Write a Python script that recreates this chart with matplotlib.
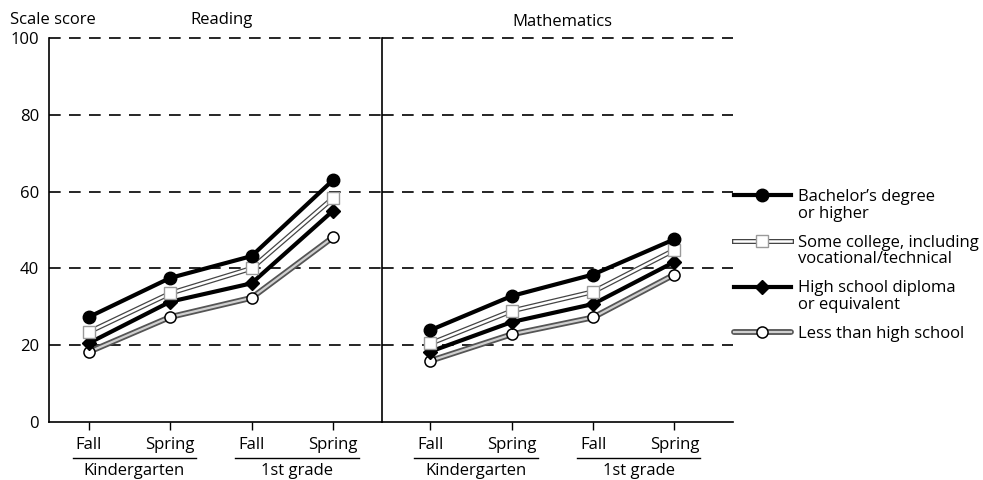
import matplotlib
matplotlib.use("Agg")
import matplotlib.pyplot as plt
from matplotlib.lines import Line2D

plt.rcParams['font.family'] = ['Open Sans', 'DejaVu Sans']
plt.rcParams['font.size'] = 12

seasons = ['Fall', 'Spring', 'Fall', 'Spring']
grades = ['Kindergarten', '1st grade']
groups = ["Bachelor\u2019s degree\nor higher",
          "Some college, including\nvocational/technical",
          "High school diploma\nor equivalent",
          "Less than high school"]

reading_bach = [27.3, 37.5, 43.2, 63.0]
reading_some = [23.4, 33.5, 40.0, 58.3]
reading_hs = [20.5, 31.3, 36.1, 55.0]
reading_less = [18.2, 27.3, 32.3, 48.1]

math_bach = [23.9, 32.8, 38.4, 47.6]
math_some = [20.4, 28.9, 33.9, 44.8]
math_hs = [18.3, 26.0, 30.7, 41.7]
math_less = [15.9, 22.8, 27.2, 38.4]

x = list(range(len(seasons)))

fig = plt.figure(figsize=(9.83, 4.8), dpi=100)
ax1 = fig.add_axes([0.0498, 0.1215, 0.3385, 0.7985])
ax2 = fig.add_axes([0.3883, 0.1215, 0.3574, 0.7985])


def draw_series(ax, bach, some, hs, less):
    # less than high school: gray double line, open circle
    a = ax.plot(x, less, color='#555555', lw=4.2, zorder=3, solid_capstyle='round')[0]
    b = ax.plot(x, less, color='#cfcfcf', lw=1.6, marker='o', ms=8, mfc='white',
                mec='black', mew=1.1, zorder=3.1)[0]
    # high school: black line, diamond
    c = ax.plot(x, hs, color='black', lw=3, marker='D', ms=7, mfc='black',
                mec='black', zorder=4)[0]
    # some college: thin double line, open square
    d = ax.plot(x, some, color='#444444', lw=3.6, zorder=5)[0]
    e = ax.plot(x, some, color='white', lw=1.8, marker='s', ms=8, mfc='white',
                mec='#9a9a9a', mew=1.0, zorder=5.1)[0]
    # bachelor: black line, filled circle
    f = ax.plot(x, bach, color='black', lw=3, marker='o', ms=9, mfc='black',
                mec='black', zorder=6)[0]
    return [f, (d, e), c, (a, b)]


handles = draw_series(ax1, reading_bach, reading_some, reading_hs, reading_less)
draw_series(ax2, math_bach, math_some, math_hs, math_less)

ax1.set_xlim(-0.49, 3.6)
ax2.set_xlim(-0.6, 3.72)

for ax in (ax1, ax2):
    ax.set_ylim(0, 100)
    ax.set_yticks([0, 20, 40, 60, 80, 100])
    for yv in [20, 40, 60, 80, 100]:
        ax.axhline(yv, color='black', lw=1.2, ls=(0, (7, 5)), zorder=1, clip_on=False)
    ax.spines['top'].set_visible(False)
    ax.spines['right'].set_visible(False)
    ax.spines['left'].set_linewidth(1.2)
    ax.spines['bottom'].set_linewidth(1.2)
    ax.set_xticks(x)
    ax.set_xticklabels(seasons)
    ax.tick_params(axis='x', direction='out', length=6, width=1, pad=5, labelsize=12)
    ax.tick_params(axis='y', length=0, pad=7, labelsize=12)
    ax.patch.set_alpha(0)

    # group labels under the season labels
    for i, g in enumerate(grades):
        x0 = 2 * i - 0.2
        x1 = 2 * i + 1 + 0.32
        ax.add_line(Line2D([x0, x1], [-0.094, -0.094], color='black', lw=1,
                           transform=ax.get_xaxis_transform(), clip_on=False))
        ax.text((x0 + x1) / 2, -0.128, g, ha='center', va='center',
                transform=ax.get_xaxis_transform(), fontsize=12)

ax2.tick_params(axis='y', labelleft=False)

fig.text(10 / 983, 1 - 20 / 480, 'Scale score', ha='left', va='center', fontsize=12)
fig.text(222 / 983, 1 - 20 / 480, 'Reading', ha='center', va='center', fontsize=12)
fig.text(562 / 983, 1 - 22 / 480, 'Mathematics', ha='center', va='center', fontsize=12)

# legend: handle sits beside the first line, second line hangs below
first_lines = [g.split('\n')[0] for g in groups]
leg = fig.legend(handles, first_lines, loc='upper left',
                 bbox_to_anchor=(734 / 983, 1 - 189 / 480),
                 frameon=False, handlelength=3.4, handletextpad=0.45, labelspacing=1.78,
                 borderaxespad=0, borderpad=0, fontsize=12)
for t, g in zip(leg.get_texts(), groups):
    parts = g.split('\n')
    if len(parts) > 1:
        fig.add_artist(plt.Annotation(parts[1], xy=(0, 0), xycoords=t,
                                      xytext=(0, -0.5), textcoords='offset points',
                                      ha='left', va='top', fontsize=12, zorder=10))

fig.savefig('out.png', dpi=100)
